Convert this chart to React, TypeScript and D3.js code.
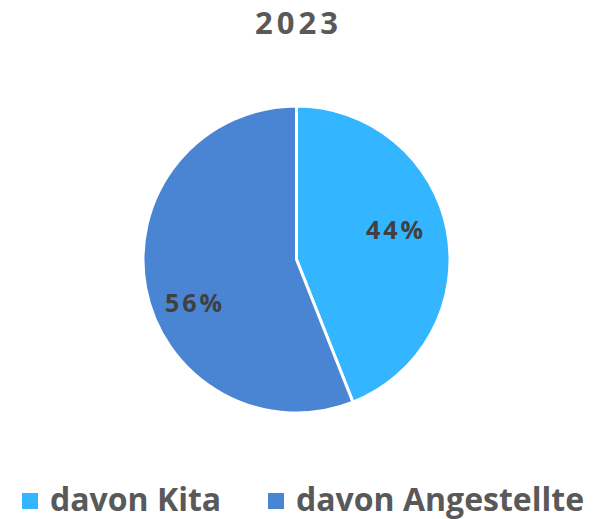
import React from 'react';
import * as d3 from 'd3';

const year = '2023';
const categories = ['davon Kita', 'davon Angestellte'];
const shares = [44, 56];
const colors = ['#33B5FF', '#4A85D3'];

const width = 603;
const height = 519;
const cx = 296.5;
const cy = 259.5;
const radius = 153.5;
const font = '"Open Sans", Lato, sans-serif';

const App: React.FC = () => {
    const pie = d3.pie<number>().sort(null).value(d => d);
    const arcs = pie(shares);
    const arc = d3.arc<d3.PieArcDatum<number>>().innerRadius(0).outerRadius(radius);
    const labelArc = d3.arc<d3.PieArcDatum<number>>().innerRadius(radius * 0.66).outerRadius(radius * 0.66);

    // legend items sit side by side, centred under the pie
    const legendX = [22, 268];

    return (
        <svg width={width} height={height} style={{ position: 'absolute', left: 0, top: 0 }}>
            <rect width={width} height={height} fill="#fff" />
            <text x={cx + 2} y={34} textAnchor="middle" fontFamily={font} fontWeight={700} fontSize={31}
                letterSpacing={4} fill="#595959">
                {year}
            </text>
            <g transform={`translate(${cx},${cy})`}>
                {arcs.map((a, i) => (
                    <path key={i} d={arc(a) || ''} fill={colors[i]} stroke="#fff" strokeWidth={3} strokeLinejoin="round" />
                ))}
                {arcs.map((a, i) => {
                    const [x, y] = labelArc.centroid(a);
                    return (
                        <text key={i} x={x + (i === 0 ? 0 : -2)} y={y + (i === 1 ? 24 : -12)} textAnchor="middle"
                            dominantBaseline="central" letterSpacing={3}
                            fontFamily={font} fontWeight={700} fontSize={25} fill="#404040">
                            {`${shares[i]}%`}
                        </text>
                    );
                })}
            </g>
            {categories.map((c, i) => (
                <g key={c} transform={`translate(${legendX[i]},0)`}>
                    <rect x={0} y={493} width={16} height={16} fill={colors[i]} />
                    <text x={28} y={511} fontFamily={font} fontWeight={700} fontSize={32} fill="#595959">
                        {c}
                    </text>
                </g>
            ))}
        </svg>
    );
};

export default App;
